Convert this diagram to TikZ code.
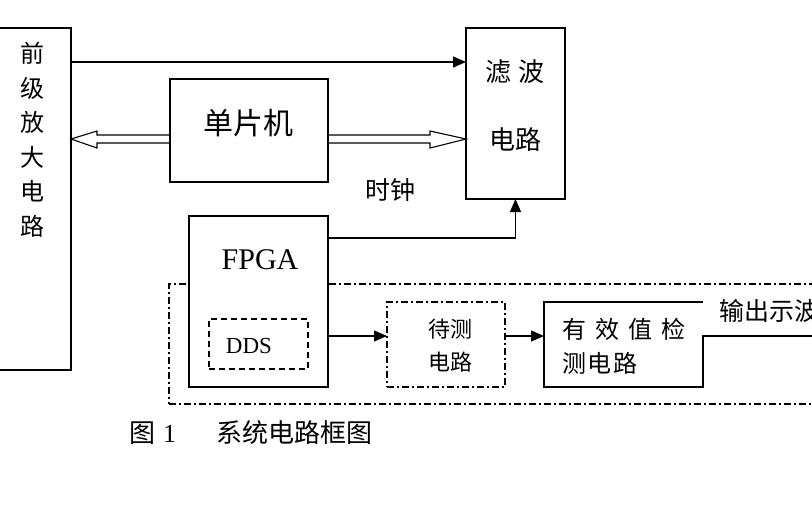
\documentclass[tikz,border=0pt]{standalone}
\usepackage{fontspec}
\setmainfont{Liberation Serif}
\newfontfamily\cjk{Noto Sans CJK SC}
\usetikzlibrary{arrows.meta,calc}
\tikzset{
  blk/.style={draw, line width=1.3pt, inner sep=0pt, outer sep=0pt},
  lbl/.style={inner sep=0pt, outer sep=0pt},
  arr/.style={line width=1.1pt, -{Triangle[length=13pt,width=11pt]}},
  hollow/.style={line width=1.1pt, line join=miter},
  dashdot/.style={dash pattern=on 7pt off 3pt on 2pt off 3pt},
}
\newcommand{\fs}[2]{\fontsize{#1}{#2}\selectfont}

\begin{document}
\begin{tikzpicture}[x=1pt,y=-1pt]
    \useasboundingbox (0,0) rectangle (812,507);
    %boxes
    \node[blk, line width=1.1pt, dashdot, minimum width=661pt, minimum height=120pt] (frame) at (499.5,344) {};
    \node[blk, minimum width=76pt, minimum height=342pt] (pre) at (33,199) {};
    \node[blk, minimum width=99pt, minimum height=171pt] (filt) at (515.5,113.5) {};
    \node[blk, minimum width=158pt, minimum height=103pt] (mcu) at (249,130.5) {};
    \node[blk, fill=white, minimum width=139pt, minimum height=171pt] (fpga) at (258.5,301.5) {};
    \node[blk, line width=1.1pt, dash pattern=on 6pt off 4pt, minimum width=99pt, minimum height=50pt] (dds) at (258.5,344) {};
    \node[blk, line width=1.1pt, dashdot, minimum width=118pt, minimum height=85pt] (dut) at (446,344.5) {};
    \node[lbl, minimum width=159pt, minimum height=85pt] (rms) at (623.5,344.5) {};
    \coordinate (outend) at (830,336);

    %texts
    \node[lbl, font=\cjk\fs{24}{34.5}, align=center] (pretxt) at (32,140) {前\\级\\放\\大\\电\\路};
    \node[lbl, font=\cjk\fs{26}{68}, align=center] (filttxt) at (515,106) {滤\hspace{8pt}波\\电路};
    \node[lbl, font=\cjk\fs{30}{30}] (mcutxt) at (248,123) {单片机};
    \node[lbl, font=\cjk\fs{25}{25}] (clktxt) at (390,190) {时钟};
    \node[lbl, font=\fs{30}{30}] (fpgatxt) at (260,260) {FPGA};
    \node[lbl, font=\fs{23}{23}] (ddstxt) at (249,346) {DDS};
    \node[lbl, font=\cjk\fs{22}{33}, align=center] (duttxt) at (450,345.5) {待测\\电路};
    \node[lbl, font=\cjk\fs{24}{34}, align=left, anchor=west] (rmstxt) at (562,346)
        {有\hspace{9pt}效\hspace{9pt}值\hspace{9pt}检\\测\hspace{2pt}电\hspace{2pt}路};
    \node[lbl, font=\cjk\fs{25}{25}, anchor=west] (outtxt) at (719,311) {输出示波器};
    \node[lbl, font=\fs{26}{26}, anchor=west] (captxt) at (129,433)
        {{\cjk 图}\hspace{8pt}1\hspace{40pt}{\cjk 系统电路框图}};

    %edges
    \draw[arr] (pre.east |- 0,62) -- (filt.west |- 0,62);
    % hollow double arrows from the MCU
    \draw[hollow] (pre.east |- 0,139) -- ++(26,-8) -- ++(0,4) -- (mcu.west |- 0,135)
        -- (mcu.west |- 0,143) -- ($(pre.east |- 0,139)+(26,4)$) -- ++(0,5) -- cycle;
    \draw[hollow] (filt.west |- 0,139) -- ++(-36,-8) -- ++(0,4) -- (mcu.east |- 0,135)
        -- (mcu.east |- 0,143) -- ($(filt.west |- 0,139)+(-36,4)$) -- ++(0,5) -- cycle;
    \draw[arr] (fpga.east |- 0,238) -| (filt.south);
    \draw[arr] (fpga.east |- 0,336) -- (dut.west |- 0,336);
    \draw[arr] (dut.east |- 0,336) -- (rms.west |- 0,336);
    \draw[line width=1.3pt] (rms.north east) -- (rms.north west) -- (rms.south west)
        -- (rms.south east) -- (rms.south east |- outend) -- (outend);
\end{tikzpicture}
\end{document}
